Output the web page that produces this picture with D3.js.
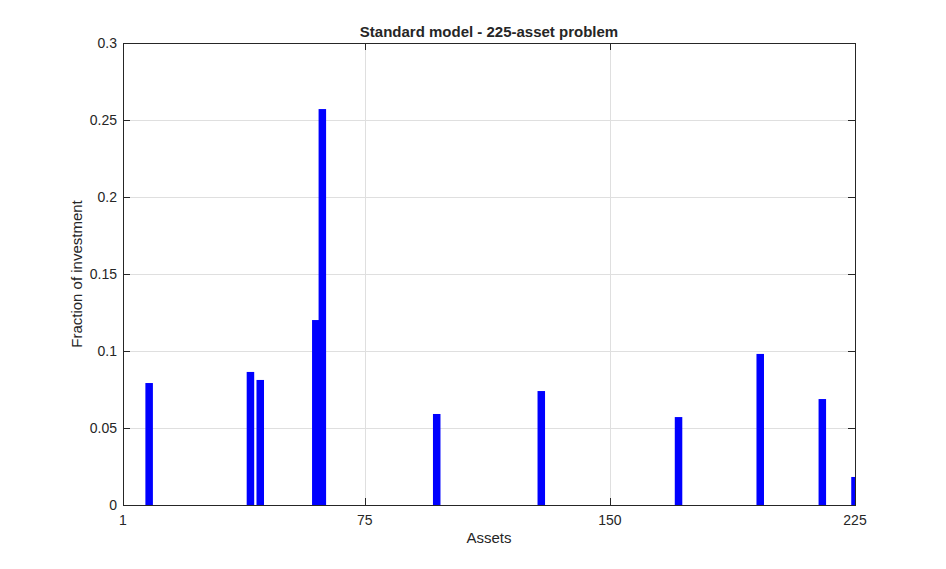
<!DOCTYPE html>
<html><head><meta charset="utf-8">
<script src="https://cdn.jsdelivr.net/npm/d3@7"></script>
<style>body{margin:0;background:#fff}svg{display:block}text{font-family:"Liberation Sans",Arial,sans-serif;fill:#262626}</style>
</head><body><svg id="c" width="946" height="569"></svg>
<script>
const assets = [9, 40, 43, 60, 62, 97, 129, 171, 196, 215, 225];
const fractions = [0.0792, 0.0864, 0.0812, 0.1201, 0.2571, 0.0591, 0.0740, 0.0571, 0.0981, 0.0688, 0.0182];
const xTicks = [1, 75, 150, 225];
const yTicks = [0, 0.05, 0.1, 0.15, 0.2, 0.25, 0.3];
const yTickLabels = ["0", "0.05", "0.1", "0.15", "0.2", "0.25", "0.3"];
const title = "Standard model - 225-asset problem";
const xLabel = "Assets";
const yLabel = "Fraction of investment";

const L = 123, R = 855, T = 43, B = 505;
const svg = d3.select("#c");
const x = d3.scaleLinear().domain([1, 225]).range([L, R]);
const y = d3.scaleLinear().domain([0, 0.3]).range([B, T]);
const barW = 2.3; // in data units

// grid
const g = svg.append("g");
g.selectAll(".gx").data(xTicks.slice(1, -1)).join("line")
  .attr("x1", d => Math.round(x(d)) + 0.5).attr("x2", d => Math.round(x(d)) + 0.5)
  .attr("y1", T).attr("y2", B).attr("stroke", "#dfdfdf").attr("stroke-width", 1);
g.selectAll(".gy").data(yTicks.slice(1, -1)).join("line")
  .attr("y1", d => Math.round(y(d)) + 0.5).attr("y2", d => Math.round(y(d)) + 0.5)
  .attr("x1", L).attr("x2", R).attr("stroke", "#dfdfdf").attr("stroke-width", 1);

// bars
svg.append("clipPath").attr("id", "clip").append("rect")
  .attr("x", L).attr("y", T).attr("width", R - L).attr("height", B - T);
svg.append("g").attr("clip-path", "url(#clip)").selectAll("rect").data(assets).join("rect")
  .attr("x", (d) => x(d - barW / 2))
  .attr("width", (d) => x(d + barW / 2) - x(d - barW / 2))
  .attr("y", (d, i) => y(fractions[i]))
  .attr("height", (d, i) => y(0) - y(fractions[i]))
  .attr("fill", "#0000ff");

// axes (MATLAB-like box with inward ticks)
const tl = 7;
const ax = svg.append("g").attr("stroke", "#262626").attr("stroke-width", 1).attr("fill", "none");
ax.append("rect").attr("x", L + 0.5).attr("y", T + 0.5).attr("width", R - L).attr("height", B - T);
xTicks.forEach(t => {
  const px = Math.round(x(t)) + 0.5;
  ax.append("line").attr("x1", px).attr("x2", px).attr("y1", B).attr("y2", B - tl);
  ax.append("line").attr("x1", px).attr("x2", px).attr("y1", T).attr("y2", T + tl);
});
yTicks.forEach(t => {
  const py = Math.round(y(t)) + 0.5;
  ax.append("line").attr("y1", py).attr("y2", py).attr("x1", L).attr("x2", L + tl);
  ax.append("line").attr("y1", py).attr("y2", py).attr("x1", R).attr("x2", R - tl);
});

// tick labels
svg.selectAll(".xl").data(xTicks).join("text")
  .attr("x", d => x(d)).attr("y", B + 20).attr("text-anchor", "middle")
  .attr("font-size", 14).text(d => d);
svg.selectAll(".yl").data(yTicks).join("text")
  .attr("x", L - 6).attr("y", d => y(d) + 5).attr("text-anchor", "end")
  .attr("font-size", 14).text((d, i) => yTickLabels[i]);

// labels
svg.append("text").attr("x", (L + R) / 2).attr("y", 543).attr("text-anchor", "middle")
  .attr("font-size", 15).text(xLabel);
svg.append("text").attr("transform", `translate(82,${(T + B) / 2}) rotate(-90)`)
  .attr("text-anchor", "middle").attr("font-size", 15).text(yLabel);
svg.append("text").attr("x", (L + R) / 2).attr("y", 37).attr("text-anchor", "middle")
  .attr("font-size", 15).attr("font-weight", "bold").text(title);
</script></body></html>
